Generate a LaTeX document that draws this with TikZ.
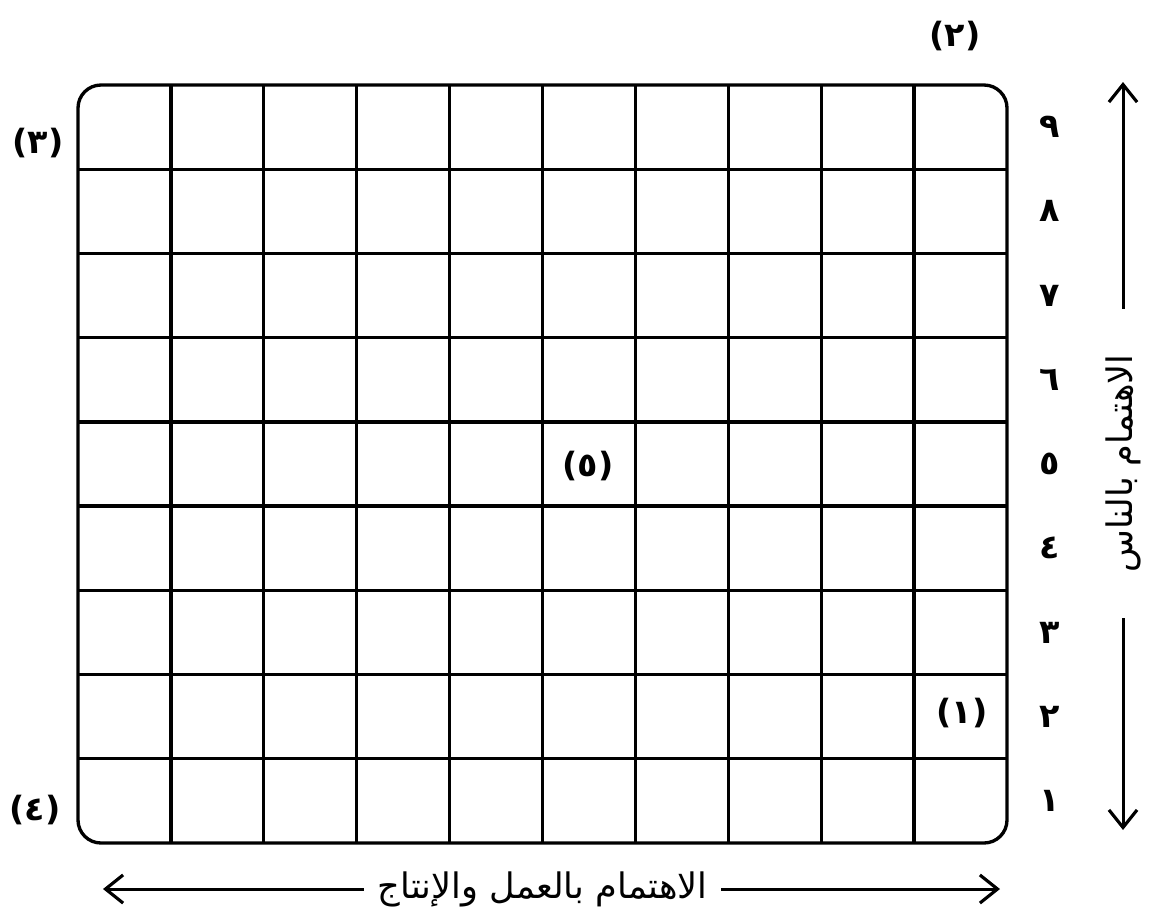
\documentclass[tikz,border=0pt]{standalone}
\usepackage{fontspec}
\newfontfamily\arabicfont[Script=Arabic]{DejaVu Sans}
\TeXXeTstate=1
\usetikzlibrary{arrows.meta}

\begin{document}
\begin{tikzpicture}[x=0.02cm,y=-0.02cm,line width=1.9pt,
    num/.style={font=\arabicfont\bfseries\fontsize{19}{22}\selectfont},
    axislabel/.style={fill=white,inner ysep=2pt,font=\arabicfont\fontsize{20}{24}\selectfont},
    axis/.style={{Straight Barb[length=10pt,width=16pt,line width=1.8pt]}-{Straight Barb[length=10pt,width=16pt,line width=1.8pt]},line width=1.7pt}]
  \useasboundingbox (0,0) rectangle (1152,920);
  % grid
  \draw[rounded corners=0.46cm] (78,85) rectangle (1007,843);
  \foreach \i in {1,...,9}
    \draw (78+\i*92.9,85) -- (78+\i*92.9,843);
  \foreach \j in {1,...,8}
    \draw (78,85+\j*84.22) -- (1007,85+\j*84.22);
  % row numbers
  \foreach \n/\d in {1/١,2/٢,3/٣,4/٤,5/٥,6/٦,7/٧,8/٨,9/٩}
    \node[num] (row\n) at (1050,843-\n*84.22+42.11) {\d};
  % marked positions
  \node[num] (pos1) at (962,713) {(١)};
  \node[num] (pos2) at (955,36) {(٢)};
  \node[num] (pos3) at (38,143) {(٣)};
  \node[num] (pos4) at (35,810) {(٤)};
  \node[num] (pos5) at (588,466) {(٥)};
  % axes
  \coordinate (xleft) at (103,889);
  \coordinate (xright) at (1000,889);
  \coordinate (ybottom) at (1123,830);
  \coordinate (ytop) at (1123,82);
  \draw[axis] (xleft) -- node[axislabel,pos=0.49,inner xsep=8pt] {\beginR الاهتمام بالعمل والإنتاج\endR} (xright);
  \draw[axis] (ybottom) -- node[axislabel,pos=0.49,rotate=90,inner xsep=0.9cm] {\beginR الاهتمام بالناس\endR} (ytop);
\end{tikzpicture}
\end{document}
